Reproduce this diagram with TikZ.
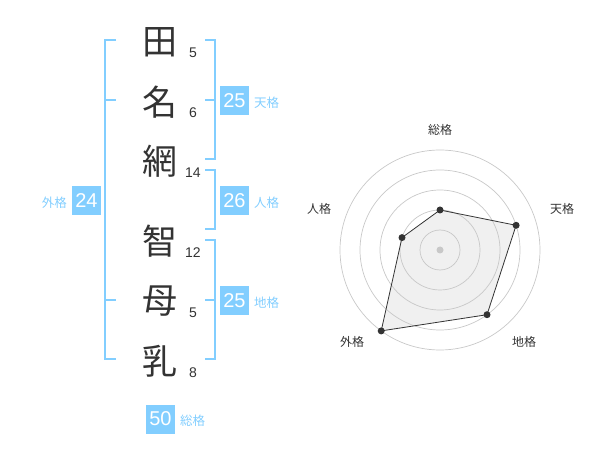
\documentclass[tikz,border=0pt]{standalone}
\usepackage{fontspec}
\setmainfont{Liberation Sans}
\newfontfamily\jp{Noto Sans CJK JP}
\definecolor{kblue}{RGB}{130,206,255}
\definecolor{ink}{RGB}{51,51,51}
\definecolor{ringc}{RGB}{200,200,200}
\begin{document}
\begin{tikzpicture}[x=1pt,y=-1pt,
  kanji/.style={font=\jp\fontsize{35}{35}\selectfont, text=ink, inner sep=0},
  strokes/.style={font=\fontsize{14}{14}\selectfont, text=ink, inner sep=0},
  valbox/.style={fill=kblue, text=white, minimum size=29pt, inner sep=0, font=\fontsize{20}{20}\selectfont},
  kaku/.style={font=\jp\fontsize{12.5}{12.5}\selectfont, text=kblue, inner sep=0},
  bracket/.style={draw=kblue, line width=2pt},
  ring/.style={draw=ringc, line width=0.7pt},
  radarlab/.style={font=\jp\fontsize{12}{12}\selectfont, text=ink, inner sep=0},
  dot/.style={circle, fill=ink, minimum size=7pt, inner sep=0},
]
\useasboundingbox (0,0) rectangle (600,470);
% characters
\node[kanji] (c1) at (160,42) {田};
\node[kanji] (c2) at (160,102) {名};
\node[kanji] (c3) at (160,161) {網};
\node[kanji] (c4) at (160,241) {智};
\node[kanji] (c5) at (160,301) {母};
\node[kanji] (c6) at (160,361) {乳};
% stroke counts
\node[strokes] (s1) at (193,53) {5};
\node[strokes] (s2) at (193,113) {6};
\node[strokes] (s3) at (193,173) {14};
\node[strokes] (s4) at (193,253) {12};
\node[strokes] (s5) at (193,313) {5};
\node[strokes] (s6) at (193,373) {8};
% brackets
\draw[bracket] (116,40) -- (105,40) -- (105,359) -- (116,359);
\draw[bracket] (105,100) -- (116,100);
\draw[bracket] (105,300) -- (116,300);
\draw[bracket] (205,40) -- (214.5,40) -- (214.5,159) -- (205,159);
\draw[bracket] (205,100) -- (214.5,100);
\draw[bracket] (205,170) -- (214.5,170) -- (214.5,229) -- (205,229);
\draw[bracket] (205,240) -- (214.5,240) -- (214.5,359) -- (205,359);
\draw[bracket] (205,300) -- (214.5,300);
% values
\node[valbox] (v24) at (86.5,201) {24};
\node[kaku, anchor=east] (l24) at (67,203) {外格};
\node[valbox] (v25a) at (234.5,101) {25};
\node[kaku, anchor=west] (l25a) at (254,103) {天格};
\node[valbox] (v26) at (234.5,201) {26};
\node[kaku, anchor=west] (l26) at (254,203) {人格};
\node[valbox] (v25b) at (234.5,301) {25};
\node[kaku, anchor=west] (l25b) at (254,303) {地格};
\node[valbox] (v50) at (160.5,419) {50};
\node[kaku, anchor=west] (l50) at (180,421) {総格};
% radar
\coordinate (ctr) at (440,250);
\coordinate (pS) at (440,210);
\coordinate (pT) at (516.1,225.3);
\coordinate (pC) at (487.0,314.7);
\coordinate (pG) at (381.2,330.9);
\coordinate (pJ) at (402.0,237.6);
\fill[black!6] (pS) -- (pT) -- (pC) -- (pG) -- (pJ) -- cycle;
\foreach \r in {20,40,60,80,100} \draw[ring] (ctr) circle[radius=\r];
\fill[ringc] (ctr) circle[radius=3.5];
\draw[ink, line width=0.8pt] (pS) -- (pT) -- (pC) -- (pG) -- (pJ) -- cycle;
\node[dot] (dS) at (pS) {};
\node[dot] (dT) at (pT) {};
\node[dot] (dC) at (pC) {};
\node[dot] (dG) at (pG) {};
\node[dot] (dJ) at (pJ) {};
\node[radarlab] (rS) at (440,130) {総格};
\node[radarlab] (rT) at (562,209) {天格};
\node[radarlab] (rC) at (524,342) {地格};
\node[radarlab] (rG) at (352,342) {外格};
\node[radarlab] (rJ) at (319,209) {人格};
\end{tikzpicture}
\end{document}
